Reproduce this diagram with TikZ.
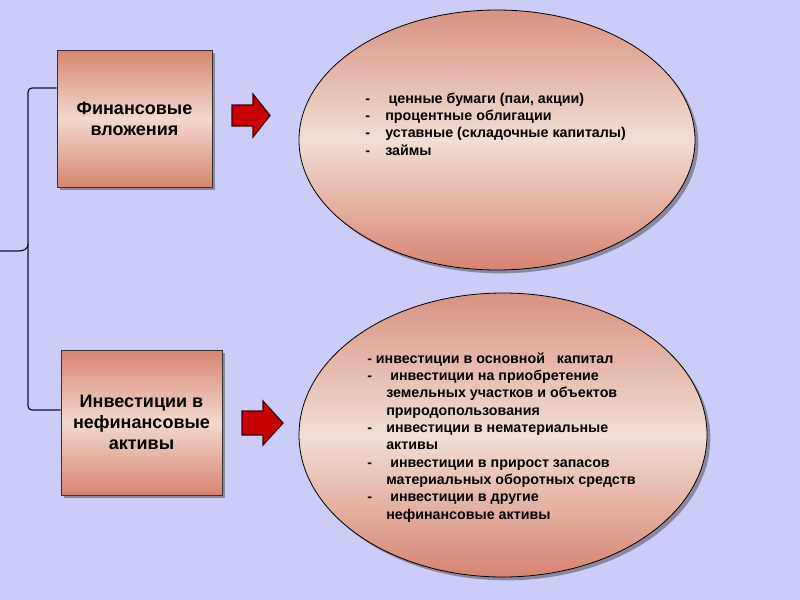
\documentclass[tikz,border=0pt]{standalone}
\usepackage{fontspec}
\setmainfont{Liberation Sans}
\usetikzlibrary{shapes.geometric,shadows}
\definecolor{bgc}{RGB}{204,204,248}
\definecolor{salmon}{RGB}{216,133,112}
\definecolor{lightc}{RGB}{241,216,206}
\definecolor{esalmon}{RGB}{216,146,128}
\definecolor{elight}{RGB}{241,222,214}
\definecolor{ebottom}{RGB}{214,132,112}
\definecolor{shadowc}{RGB}{125,118,140}
\definecolor{arrowc}{RGB}{200,0,0}
\definecolor{arrowd}{RGB}{60,0,10}
\definecolor{linec}{RGB}{16,16,64}
\tikzset{
  boxnode/.style={rectangle, draw=black!80, line width=0.6pt,
    top color=salmon, bottom color=salmon, middle color=lightc,
    drop shadow={shadow xshift=2.5pt, shadow yshift=-2.5pt, fill=shadowc, opacity=0.8},
    align=center, inner sep=0pt,
    font=\fontsize{13.5}{15.75}\selectfont\bfseries},
  ellnode/.style={ellipse, draw=black, line width=0.6pt,
    top color=esalmon, bottom color=ebottom, middle color=elight,
    drop shadow={shadow xshift=2.5pt, shadow yshift=-2.5pt, fill=shadowc, opacity=0.8},
    inner sep=0pt},
  listnode/.style={anchor=north west, inner sep=0pt,
    font=\fontsize{10.7}{13}\selectfont\bfseries},
  bigarrow/.style={fill=arrowc, draw=arrowd, line width=0.9pt, line join=miter},
  bracket/.style={draw=linec, line width=0.9pt}
}
\begin{document}
\begin{tikzpicture}[x=0.75pt,y=-0.75pt]
\fill[bgc] (0,0) rectangle (800,600);
\useasboundingbox (0,0) rectangle (800,600);

% left boxes
\node[boxnode, minimum width=116.25pt, minimum height=102.75pt] (b1) at (134.5,118.5) {Финансовые\\вложения};
\node[boxnode, minimum width=120.75pt, minimum height=108.75pt] (b2) at (141.5,422.5) {Инвестиции в\\нефинансовые\\активы};

% bracket
\draw[bracket, rounded corners=3pt] (b1.west |- 0,88) -- (28,88) -- (28,410) -- (b2.west |- 0,410);
\draw[bracket] (28,244) .. controls (28,249) and (24,251) .. (18,251) -- (0,251);

% arrows
\filldraw[bigarrow] (232,105) -- (253,105) -- (253,94) -- (270,115.5) -- (253,137) -- (253,126) -- (232,126) -- cycle;
\filldraw[bigarrow] (242,411) -- (263,411) -- (263,401) -- (283,423) -- (263,445) -- (263,435) -- (242,435) -- cycle;

% ellipses
\node[ellnode, minimum width=297pt, minimum height=195pt] (e1) at (497,140) {};
\node[ellnode, minimum width=306pt, minimum height=213pt] (e2) at (503,435) {};

% texts
\node[listnode] (t1) at (365,90.9) {%
\begin{tabular}{@{}p{15pt}@{}l@{}}
- & \hspace{2.5pt}ценные бумаги (паи, акции)\\
- & процентные облигации\\
- & уставные (складочные капиталы)\\
- & займы
\end{tabular}};
\node[listnode] (t2) at (367,350.9) {%
\begin{tabular}{@{}p{14.25pt}@{}l@{}}
\multicolumn{2}{@{}l@{}}{- инвестиции в основной\ \ \ капитал}\\
- & \hspace{3pt}инвестиции на приобретение\\
  & земельных участков и объектов\\
  & природопользования\\
- & инвестиции в нематериальные\\
  & активы\\
- & \hspace{3pt}инвестиции в прирост запасов\\
  & материальных оборотных средств\\
- & \hspace{3pt}инвестиции в другие\\
  & нефинансовые активы
\end{tabular}};
\end{tikzpicture}
\end{document}
